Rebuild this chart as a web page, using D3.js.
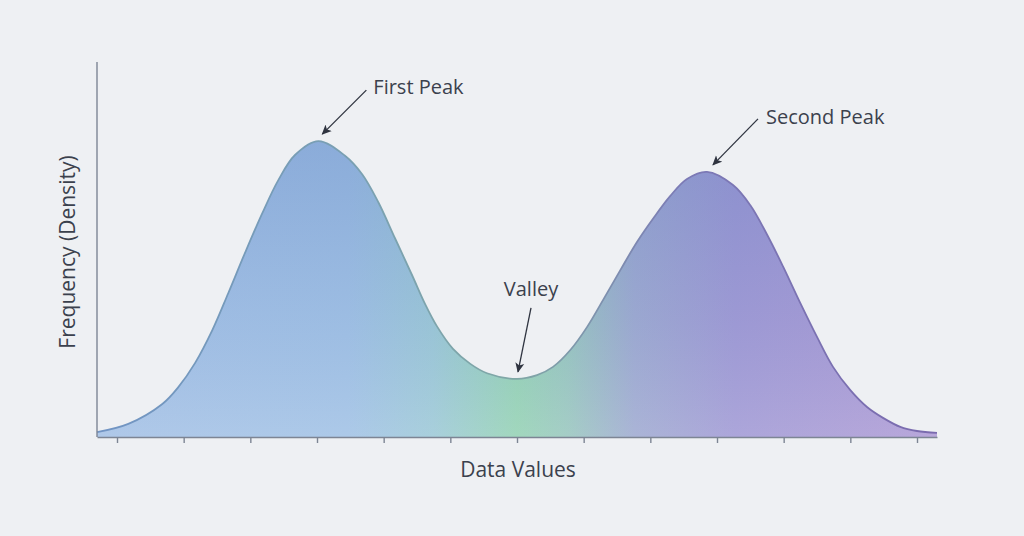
<!DOCTYPE html>
<html lang="en">
<head>
  <meta charset="UTF-8">
  <title>Bimodal distribution</title>
  <style>
    html, body { margin: 0; padding: 0; background: #eef0f3; }
  </style>
</head>
<body>
  <script src="https://d3js.org/d3.v7.min.js"></script>
  <script>
    // values
    const xValues = [-0.3, 0.17, 0.68, 0.92, 1.17, 1.43, 1.67, 1.92, 2.18, 2.42, 2.67, 3.02, 3.42, 3.68, 3.92, 4.17, 4.43, 4.62, 4.8, 5.04, 5.3, 5.55, 6.0, 6.3, 6.54, 6.8, 7.05, 7.29, 7.55, 7.8, 8.04, 8.3, 8.55, 8.85, 9.24, 9.5, 9.75, 9.99, 10.25, 10.5, 10.74, 11.0, 11.25, 11.49, 11.75, 12.0, 12.3];
    const density = [0.013, 0.035, 0.088, 0.133, 0.197, 0.285, 0.384, 0.491, 0.597, 0.685, 0.752, 0.789, 0.75, 0.7, 0.626, 0.53, 0.43, 0.355, 0.295, 0.235, 0.195, 0.17, 0.155, 0.165, 0.187, 0.232, 0.293, 0.365, 0.445, 0.52, 0.582, 0.643, 0.688, 0.707, 0.672, 0.618, 0.54, 0.455, 0.357, 0.267, 0.187, 0.125, 0.08, 0.051, 0.027, 0.016, 0.011];
    const tickValues = [0, 1, 2, 3, 4, 5, 6, 7, 8, 9, 10, 11, 12];
    const annotationLabels = ["First Peak", "Valley", "Second Peak"];
    const annotationAt = [3.02, 6.0, 8.85];

    const [width, height] = [1024, 536];
    const margin = { top: 62, right: 87, bottom: 99, left: 97 };

    const data = xValues.map((v, i) => ({ v, d: density[i] }));

    const x = d3.scaleLinear()
      .domain([-0.3, 12.3])
      .range([margin.left, width - margin.right]);
    const y = d3.scaleLinear()
      .domain([0, 1])
      .range([height - margin.bottom, margin.top]);

    const svg = d3.select(document.body)
      .append("svg")
      .attr("width", width)
      .attr("height", height)
      .attr("viewBox", [0, 0, width, height])
      .attr("font-family", "'Open Sans', sans-serif")
      .style("display", "block");

    svg.append("rect").attr("width", width).attr("height", height).attr("fill", "#eef0f3");

    const defs = svg.append("defs");
    const hgrad = defs.append("linearGradient")
      .attr("id", "fillH")
      .attr("gradientUnits", "userSpaceOnUse")
      .attr("x1", x.range()[0]).attr("x2", x.range()[1])
      .attr("y1", 0).attr("y2", 0);
    [[0, "#a6c2e6"], [0.3, "#a3c3e6"], [0.4, "#9fcad8"], [0.5, "#97d3b6"], [0.56, "#9bc8c0"],
     [0.64, "#a1acd2"], [0.76, "#a39cd6"], [1, "#b09dd6"]]
      .forEach(([o, c]) => hgrad.append("stop").attr("offset", o).attr("stop-color", c));

    const vgrad = defs.append("linearGradient")
      .attr("id", "fillV")
      .attr("gradientUnits", "userSpaceOnUse")
      .attr("x1", 0).attr("x2", 0)
      .attr("y1", y(0.8)).attr("y2", y(0));
    vgrad.append("stop").attr("offset", 0).attr("stop-color", "#4a6fb8").attr("stop-opacity", 0.28);
    vgrad.append("stop").attr("offset", 0.6).attr("stop-color", "#4a6fb8").attr("stop-opacity", 0.08);
    vgrad.append("stop").attr("offset", 1).attr("stop-color", "#ffffff").attr("stop-opacity", 0.1);

    const sgrad = defs.append("linearGradient")
      .attr("id", "strokeH")
      .attr("gradientUnits", "userSpaceOnUse")
      .attr("x1", x.range()[0]).attr("x2", x.range()[1])
      .attr("y1", 0).attr("y2", 0);
    [[0, "#7194c4"], [0.5, "#80a8a6"], [0.7, "#7c7ab6"], [1, "#7a6aae"]]
      .forEach(([o, c]) => sgrad.append("stop").attr("offset", o).attr("stop-color", c));

    defs.append("marker")
      .attr("id", "arrow")
      .attr("viewBox", "0 0 10 10")
      .attr("refX", 9).attr("refY", 5)
      .attr("markerWidth", 10).attr("markerHeight", 10)
      .attr("markerUnits", "userSpaceOnUse")
      .attr("orient", "auto")
      .append("path")
      .attr("d", "M0,0.5 L10,5 L0,9.5 L2.5,5 Z")
      .attr("fill", "#2f3440");

    const area = d3.area()
      .curve(d3.curveCatmullRom)
      .x(d => x(d.v))
      .y0(y(0))
      .y1(d => y(d.d));
    const line = d3.line()
      .curve(d3.curveCatmullRom)
      .x(d => x(d.v))
      .y(d => y(d.d));

    svg.append("path").datum(data).attr("d", area).attr("fill", "url(#fillH)");
    svg.append("path").datum(data).attr("d", area).attr("fill", "url(#fillV)");
    svg.append("path").datum(data).attr("d", line)
      .attr("fill", "none")
      .attr("stroke", "url(#strokeH)")
      .attr("stroke-width", 1.8);

    // axes
    svg.append("g")
      .attr("transform", `translate(0,${y(0)})`)
      .call(d3.axisBottom(x).tickValues(tickValues).tickFormat("").tickSizeInner(6).tickSizeOuter(0))
      .call(g => g.selectAll("path, line").attr("stroke", "#7d8594").attr("stroke-width", 1.4));

    svg.append("line")
      .attr("x1", x.range()[0]).attr("x2", x.range()[0])
      .attr("y1", y.range()[0]).attr("y2", y.range()[1])
      .attr("stroke", "#7d8594")
      .attr("stroke-width", 1.4);

    svg.append("text")
      .attr("x", 518).attr("y", 477)
      .attr("text-anchor", "middle")
      .attr("font-size", 21)
      .attr("fill", "#3b414d")
      .text("Data Values");

    svg.append("text")
      .attr("transform", `translate(75,252) rotate(-90)`)
      .attr("text-anchor", "middle")
      .attr("font-size", 21)
      .attr("fill", "#3b414d")
      .text("Frequency (Density)");

    // annotation layout relative to the curve point
    const offsets = [
      { tx: 55, ty: -47, anchor: "start", sx: 48, sy: -51, ex: 4, ey: -7 },
      { tx: 14, ty: -83, anchor: "middle", sx: 14, sy: -71, ex: 1, ey: -7 },
      { tx: 59, ty: -48, anchor: "start", sx: 51, sy: -53, ex: 6, ey: -7 }
    ];
    annotationLabels.forEach((label, i) => {
      const v = annotationAt[i];
      const d = density[xValues.indexOf(v)];
      const px = x(v), py = y(d);
      const o = offsets[i];
      svg.append("line")
        .attr("x1", px + o.sx).attr("y1", py + o.sy)
        .attr("x2", px + o.ex).attr("y2", py + o.ey)
        .attr("stroke", "#2f3440")
        .attr("stroke-width", 1.3)
        .attr("marker-end", "url(#arrow)");
      svg.append("text")
        .attr("x", px + o.tx).attr("y", py + o.ty)
        .attr("text-anchor", o.anchor)
        .attr("font-size", 20)
        .attr("fill", "#3b414d")
        .text(label);
    });
  </script>
</body>
</html>
